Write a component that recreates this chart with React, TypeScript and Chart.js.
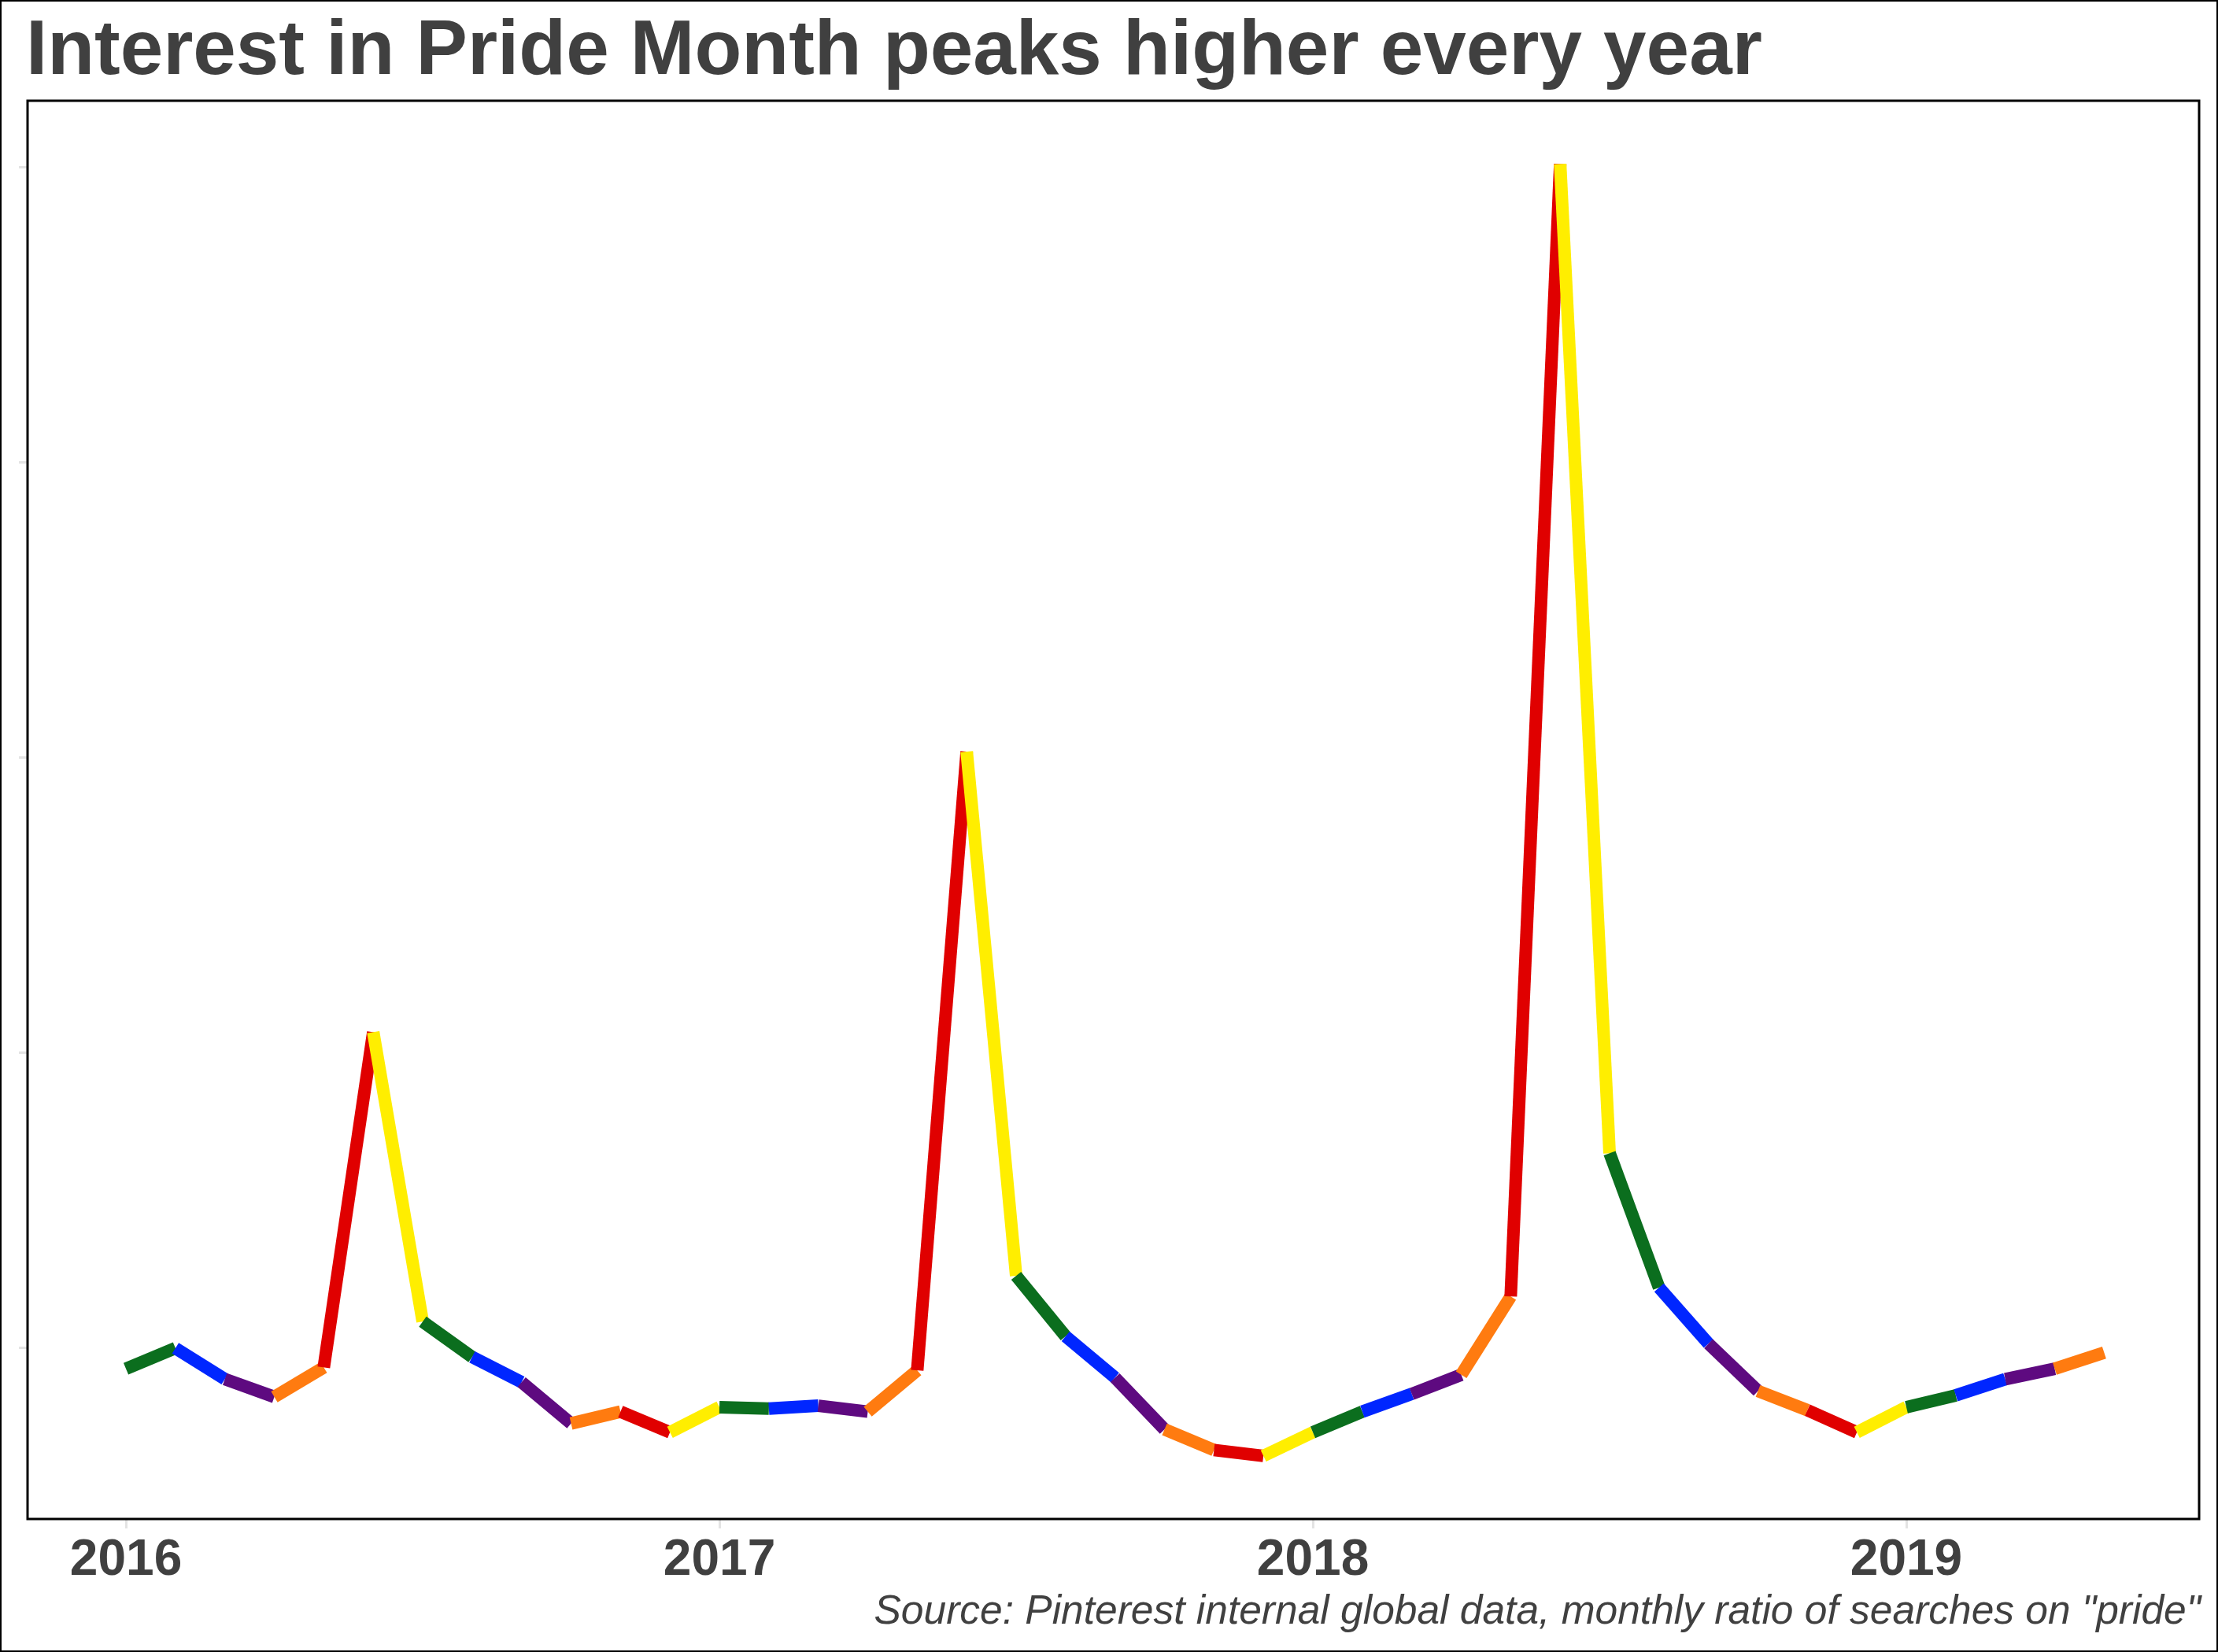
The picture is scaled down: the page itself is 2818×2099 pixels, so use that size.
import React, { useEffect, useRef } from "react";
import { Chart, registerables } from "chart.js";

Chart.register(...registerables);

// Monthly index 0 = Jan 2016 ... 40 = May 2019
const startYear = 2016;
const searchRatio = [
  0.186, 0.2, 0.179, 0.167, 0.187, 0.414, 0.218, 0.194, 0.177, 0.149, 0.157, 0.143,
  0.16, 0.159, 0.161, 0.157, 0.185, 0.604, 0.249, 0.208, 0.18, 0.145, 0.131, 0.127,
  0.143, 0.157, 0.169, 0.182, 0.235, 1.002, 0.332, 0.241, 0.203, 0.171, 0.158, 0.143,
  0.16, 0.168, 0.179, 0.186, 0.197,
];
const yearTickMonths = [0, 12, 24, 36];
const yTickValues = [0.2, 0.4, 0.6, 0.8, 1.0];
const rainbow = ["#0b6e1e", "#0026ff", "#5e0a80", "#ff7b10", "#e00000", "#ffee00"];

const titleText = "Interest in Pride Month peaks higher every year";
const sourceText = 'Source: Pinterest internal global data, monthly ratio of searches on "pride"';

const W = 2818;
const H = 2099;

const decorPlugin = {
  id: "decor",
  beforeDraw(chart: any) {
    const ctx = chart.ctx;
    ctx.save();
    ctx.fillStyle = "#ffffff";
    ctx.fillRect(0, 0, chart.width, chart.height);
    ctx.restore();
  },
  afterDraw(chart: any) {
    const ctx = chart.ctx;
    const a = chart.chartArea;
    ctx.save();
    ctx.strokeStyle = "#000000";
    ctx.lineWidth = 3;
    ctx.strokeRect(a.left, a.top, a.right - a.left, a.bottom - a.top);
    ctx.lineWidth = 2;
    ctx.strokeRect(1, 1, chart.width - 2, chart.height - 2);

    ctx.fillStyle = "#404040";
    ctx.textBaseline = "alphabetic";
    ctx.textAlign = "left";
    ctx.font = "bold 98px 'Liberation Sans', Arial, sans-serif";
    ctx.fillText(titleText, 33, 94);

    ctx.textAlign = "right";
    ctx.font = "italic 51.5px 'Liberation Sans', Arial, sans-serif";
    ctx.fillText(sourceText, 2796, 2063);
    ctx.restore();
  },
};

export default function App() {
  const ref = useRef<HTMLCanvasElement | null>(null);

  useEffect(() => {
    document.body.style.margin = "0";
    const canvas = ref.current;
    if (!canvas) return;
    const points = searchRatio.map((v, i) => ({ x: i, y: v }));
    const chart = new Chart(canvas, {
      type: "line",
      data: {
        datasets: [
          {
            data: points,
            borderWidth: 16,
            borderCapStyle: "butt",
            borderJoinStyle: "miter",
            pointRadius: 0,
            tension: 0,
            fill: false,
            borderColor: rainbow[0],
            segment: {
              borderColor: (c: any) => rainbow[c.p0DataIndex % rainbow.length],
            },
          },
        ],
      },
      options: {
        animation: false,
        responsive: false,
        devicePixelRatio: 1,
        layout: { padding: { left: 0, top: 128, right: 24, bottom: 0 } },
        plugins: {
          legend: { display: false },
          tooltip: { enabled: false },
          title: { display: false },
        },
        scales: {
          x: {
            type: "linear",
            min: -1.99,
            max: 41.92,
            afterBuildTicks: (s: any) => {
              s.ticks = yearTickMonths.map((v) => ({ value: v }));
            },
            afterFit: (s: any) => {
              s.height = H - 1930;
            },
            border: { display: false },
            grid: {
              drawOnChartArea: false,
              drawTicks: true,
              tickLength: 12,
              color: "#e3e3e3",
              lineWidth: 3,
            },
            ticks: {
              padding: 3,
              color: "#404040",
              font: { family: "'Liberation Sans', Arial, sans-serif", size: 64, weight: "bold" },
              callback: (v: any) => String(startYear + Math.round(Number(v) / 12)),
            },
          },
          y: {
            type: "linear",
            min: 0.0843,
            max: 1.0448,
            afterBuildTicks: (s: any) => {
              s.ticks = yTickValues.map((v) => ({ value: v }));
            },
            afterFit: (s: any) => {
              s.width = 35;
            },
            border: { display: false },
            grid: {
              drawOnChartArea: false,
              drawTicks: true,
              tickLength: 11,
              color: "#e3e3e3",
              lineWidth: 3,
            },
            ticks: { display: false },
          },
        },
      },
      plugins: [decorPlugin],
    } as any);
    return () => chart.destroy();
  }, []);

  return (
    <div style={{ position: "absolute", left: 0, top: 0, width: W, height: H }}>
      <canvas ref={ref} width={W} height={H} style={{ width: W, height: H, display: "block" }} />
    </div>
  );
}
